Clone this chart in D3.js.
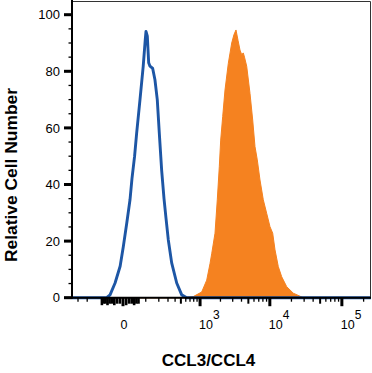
<!DOCTYPE html>
<html><head><meta charset="utf-8">
<script src="https://cdn.jsdelivr.net/npm/d3@7"></script>
<style>html,body{margin:0;padding:0;background:#fff;}svg{display:block;}</style>
</head><body>
<svg id="c" width="372" height="373"></svg>
<script>
// ---- data ----
const blueX = [-383, -64, -48, -27, -9, 1, 12, 23.5, 31, 42, 51, 67.5, 85, 97, 101.5, 110, 119, 128, 148, 166, 186, 205, 228, 253, 276, 304, 349, 426, 516, 621, 253050];
const blueY = [0, 0, 1, 5.2, 11.1, 18.1, 26.4, 34.6, 42, 50, 58, 70, 81.8, 91.2, 94.1, 92.4, 83, 81.8, 81, 77, 70, 58, 45, 35, 28, 20.4, 12.3, 5.2, 1, 0, 0];
const orangeX = [-383, 583, 788, 1058, 1258, 1407, 1491, 1667, 1800, 1925, 2017, 2156, 2327, 2595, 2903, 3130, 3342, 3568, 3809, 4026, 4241, 4410, 4737, 5272, 5753, 6198, 6677, 7285, 8103, 9035, 10049, 10961, 11806, 13122, 14636, 17174, 21216, 29215, 253050];
const orangeY = [0, 0, 0.4, 2, 6.2, 12, 15.5, 22.8, 34.6, 46.3, 55.7, 64, 73.4, 82.8, 90, 93, 94.6, 91, 87.5, 85.9, 86.5, 85, 81.8, 72.2, 62.8, 53.4, 48.7, 41.6, 34.6, 29.8, 25.1, 22.8, 16.9, 11, 7.4, 3.9, 1.6, 0, 0];
const yTicks = [0, 20, 40, 60, 80, 100];
const yMinorTicks = [5, 10, 15, 25, 30, 35, 45, 50, 55, 65, 70, 75, 85, 90, 95];
const xMajorTicks = [0, 1000, 10000, 100000];
const xMediumTicks = [500, 5000, 50000];
const xClusterTicks = [-90, -80, -70, -60, -50, -40, -30, -20, -10, 10, 20, 30, 40, 50, 60];
const xMinorTicks = [-300, -200, 100, 200, 300, 400, 600, 700, 800, 900,
  2000, 3000, 4000, 6000, 7000, 8000, 9000,
  20000, 30000, 40000, 60000, 70000, 80000, 90000, 200000];
const xTickLabels = [{v: 0, base: "0", exp: ""}, {v: 1000, base: "10", exp: "3"}, {v: 10000, base: "10", exp: "4"}, {v: 100000, base: "10", exp: "5"}];
const xTitle = "CCL3/CCL4";
const yTitle = "Relative Cell Number";

// ---- layout ----
const L = 72, R = 371, T = 1, B = 297.7;
const font = "'Liberation Sans', Arial, Helvetica, sans-serif";
const svg = d3.select("#c");

const x = d3.scaleSymlog().constant(94).domain([-383, 253050]).range([L, R]);
const y = d3.scaleLinear().domain([0, 100]).range([B, 14.7]);

// orange filled histogram
const orange = orangeX.map((v, i) => [v, orangeY[i]]);
svg.append("path").datum(orange)
  .attr("d", d3.area().x(d => x(d[0])).y0(y(0)).y1(d => y(d[1])))
  .attr("fill", "#f58220").attr("stroke", "#f58220").attr("stroke-width", 1);

// blue line histogram
const blue = blueX.map((v, i) => [v, blueY[i]]);
svg.append("path").datum(blue)
  .attr("d", d3.line().x(d => x(d[0])).y(d => y(d[1])))
  .attr("fill", "none").attr("stroke", "#1d56a5").attr("stroke-width", 2.9)
  .attr("stroke-linejoin", "round");

// frame (top/right thin)
svg.append("line").attr("x1", L).attr("x2", 370.5).attr("y1", 1.5).attr("y2", 1.5).attr("stroke", "#333").attr("stroke-width", 1);
svg.append("line").attr("x1", 370.5).attr("x2", 370.5).attr("y1", 1.5).attr("y2", B).attr("stroke", "#333").attr("stroke-width", 1);

// y axis
const yAxis = svg.append("g");
yAxis.append("line").attr("x1", L).attr("x2", L).attr("y1", 0).attr("y2", B + 1).attr("stroke", "#000").attr("stroke-width", 2);
yAxis.selectAll("line.ymaj").data(yTicks).join("line").attr("class", "ymaj")
  .attr("x1", 64).attr("x2", L).attr("y1", d => y(d)).attr("y2", d => y(d))
  .attr("stroke", "#000").attr("stroke-width", 3);
yAxis.selectAll("line.ymin").data(yMinorTicks).join("line").attr("class", "ymin")
  .attr("x1", 68.5).attr("x2", L).attr("y1", d => y(d)).attr("y2", d => y(d))
  .attr("stroke", "#000").attr("stroke-width", 1.3);
yAxis.selectAll("text").data(yTicks).join("text")
  .attr("x", 60).attr("y", d => y(d)).attr("dy", "0.36em")
  .attr("text-anchor", "end").attr("font-family", font).attr("font-size", 13).attr("fill", "#000")
  .text(d => d);

// x axis
const xAxis = svg.append("g");
xAxis.append("line").attr("x1", 64).attr("x2", R).attr("y1", B).attr("y2", B).attr("stroke", "#000").attr("stroke-width", 2);
xAxis.selectAll("line.xmaj").data(xMajorTicks).join("line").attr("class", "xmaj")
  .attr("x1", d => x(d)).attr("x2", d => x(d)).attr("y1", B).attr("y2", B + 8.5)
  .attr("stroke", "#000").attr("stroke-width", 3);
xAxis.selectAll("line.xmed").data(xMediumTicks).join("line").attr("class", "xmed")
  .attr("x1", d => x(d)).attr("x2", d => x(d)).attr("y1", B).attr("y2", B + 6)
  .attr("stroke", "#000").attr("stroke-width", 2);
xAxis.selectAll("line.xcl").data(xClusterTicks).join("line").attr("class", "xcl")
  .attr("x1", d => x(d)).attr("x2", d => x(d)).attr("y1", B).attr("y2", (d, i) => B + (i % 3 === 0 ? 7.5 : 6))
  .attr("stroke", "#000").attr("stroke-width", 2.6);
xAxis.selectAll("line.xmin").data(xMinorTicks).join("line").attr("class", "xmin")
  .attr("x1", d => x(d)).attr("x2", d => x(d)).attr("y1", B).attr("y2", B + 4)
  .attr("stroke", "#000").attr("stroke-width", 1.3);

const lab = xAxis.selectAll("text").data(xTickLabels).join("text")
  .attr("x", d => d.exp ? x(d.v) - 1 : x(d.v) + 1)
  .attr("y", 329)
  .attr("text-anchor", d => d.exp ? "start" : "middle")
  .attr("font-family", font).attr("font-size", 12.5).attr("fill", "#000");
lab.append("tspan").text(d => d.base);
lab.append("tspan").attr("dy", -10).attr("font-size", 12).text(d => d.exp);

// titles
svg.append("text").attr("x", 208.5).attr("y", 366).attr("text-anchor", "middle")
  .attr("font-family", font).attr("font-weight", "bold").attr("font-size", 17).attr("fill", "#000")
  .text(xTitle);
svg.append("text").attr("transform", "translate(17,175) rotate(-90)").attr("text-anchor", "middle")
  .attr("font-family", font).attr("font-weight", "bold").attr("font-size", 16.5).attr("fill", "#000")
  .attr("textLength", 174).attr("lengthAdjust", "spacingAndGlyphs")
  .text(yTitle);
</script>
</body></html>
